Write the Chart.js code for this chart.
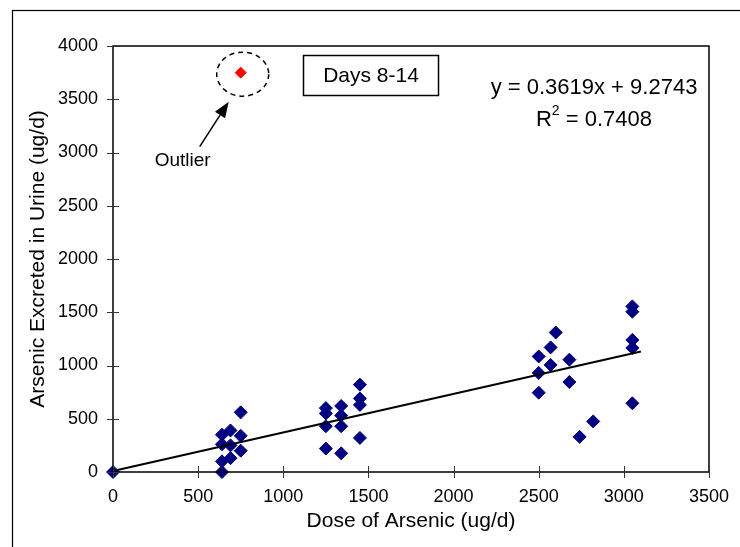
<!DOCTYPE html>
<html>
<head>
<meta charset="utf-8">
<script src="https://cdn.jsdelivr.net/npm/chart.js@4/dist/chart.umd.min.js"></script>
<style>
  html, body { margin: 0; padding: 0; background: #fff; }
  #wrap { width: 740px; height: 547px; position: relative; }
</style>
</head>
<body>
<div id="wrap"><canvas id="arsenicChart" width="740" height="547"></canvas></div>
<script>
// dose (ug/d) vs arsenic excreted in urine (ug/d), days 8-14
const doseValues = [
  0,
  640, 640, 640, 640,
  690, 690, 690,
  750, 750, 750,
  1250, 1250, 1250, 1250,
  1340, 1340, 1340, 1340,
  1450, 1450, 1450, 1450,
  2500, 2500, 2500,
  2570, 2570,
  2600,
  2680, 2680,
  2740,
  2820,
  3050, 3050, 3050, 3050, 3050
];
const urineValues = [
  0,
  350, 260, 100, 0,
  390, 250, 130,
  560, 340, 200,
  600, 550, 430, 220,
  620, 530, 430, 175,
  820, 690, 630, 320,
  1085, 930, 745,
  1170, 1005,
  1310,
  1055, 845,
  330,
  475,
  1555, 1505, 1240, 1165, 645
];
const outlierDose = [750];
const outlierUrine = [3750];

// linear trend from the fitted equation
const slope = 0.3619;
const intercept = 9.2743;
const rSquared = 0.7408;
const trendRange = [0, 3100];

const xTicks = [0, 500, 1000, 1500, 2000, 2500, 3000, 3500];
const yTicks = [0, 500, 1000, 1500, 2000, 2500, 3000, 3500, 4000];

const FONT = "'Liberation Sans', Arial, Helvetica, sans-serif";

const points = doseValues.map((d, i) => ({ x: d, y: urineValues[i] }));
const outlier = outlierDose.map((d, i) => ({ x: d, y: outlierUrine[i] }));
const trend = trendRange.map(x => ({ x: x, y: slope * x + intercept }));

// frame, crossing tick marks and the text notes
const decorations = {
  id: 'decorations',
  afterDraw(chart) {
    const ctx = chart.ctx;
    const area = chart.chartArea;
    const xs = chart.scales.x;
    const ys = chart.scales.y;
    ctx.save();

    // outer chart border (runs off the right and bottom)
    ctx.strokeStyle = '#000';
    ctx.lineWidth = 1.2;
    ctx.strokeRect(12.5, 10.5, 800, 600);

    // plot area box
    ctx.lineWidth = 1.5;
    ctx.strokeRect(area.left, area.top, area.right - area.left, area.bottom - area.top);

    // tick marks crossing the axes
    ctx.lineWidth = 1;
    ctx.strokeStyle = '#333';
    ctx.beginPath();
    xTicks.forEach(v => {
      const px = Math.round(xs.getPixelForValue(v)) + 0.5;
      ctx.moveTo(px, area.bottom - 6);
      ctx.lineTo(px, area.bottom + 6);
    });
    yTicks.forEach(v => {
      const py = Math.round(ys.getPixelForValue(v)) + 0.5;
      ctx.moveTo(area.left - 6, py);
      ctx.lineTo(area.left + 6, py);
    });
    ctx.stroke();

    // dashed ring and arrow for the outlier
    const ox = xs.getPixelForValue(outlierDose[0]);
    const oy = ys.getPixelForValue(outlierUrine[0]);
    ctx.strokeStyle = '#000';
    ctx.lineWidth = 1.5;
    ctx.setLineDash([5, 4]);
    ctx.beginPath();
    ctx.ellipse(ox + 2, oy + 1.5, 26, 22, 0, 0, Math.PI * 2);
    ctx.stroke();
    ctx.setLineDash([]);

    const tipX = ox - 12, tipY = oy + 29;
    const tailX = ox - 41, tailY = oy + 74;
    const ang = Math.atan2(tipY - tailY, tipX - tailX);
    const headLen = 16, headW = 6;
    const baseX = tipX - Math.cos(ang) * headLen;
    const baseY = tipY - Math.sin(ang) * headLen;
    ctx.beginPath();
    ctx.moveTo(tailX, tailY);
    ctx.lineTo(baseX, baseY);
    ctx.stroke();
    ctx.fillStyle = '#000';
    ctx.beginPath();
    ctx.moveTo(tipX, tipY);
    ctx.lineTo(baseX + Math.sin(ang) * headW, baseY - Math.cos(ang) * headW);
    ctx.lineTo(baseX - Math.sin(ang) * headW, baseY + Math.cos(ang) * headW);
    ctx.closePath();
    ctx.fill();

    ctx.font = '19px ' + FONT;
    ctx.textAlign = 'center';
    ctx.textBaseline = 'middle';
    ctx.fillText('Outlier', ox - 58, oy + 88);

    // period label box
    ctx.lineWidth = 1.5;
    ctx.strokeRect(303.5, 55.5, 135, 40);
    ctx.font = '21px ' + FONT;
    ctx.fillText('Days 8-14', 371, 76);

    // trend equation and R squared
    ctx.font = '22px ' + FONT;
    ctx.fillText('y = ' + slope + 'x + ' + intercept, 594, 88);
    const rest = ' = ' + rSquared;
    const wR = ctx.measureText('R').width;
    const wRest = ctx.measureText(rest).width;
    ctx.font = '14px ' + FONT;
    const w2 = ctx.measureText('2').width;
    const cx = 594 - (wR + w2 + wRest) / 2;
    ctx.textAlign = 'left';
    ctx.font = '22px ' + FONT;
    ctx.fillText('R', cx, 120);
    ctx.font = '14px ' + FONT;
    ctx.fillText('2', cx + wR, 111);
    ctx.font = '22px ' + FONT;
    ctx.fillText(rest, cx + wR + w2, 120);

    ctx.restore();
  }
};

const plainNumber = value => String(value);

new Chart(document.getElementById('arsenicChart').getContext('2d'), {
  type: 'scatter',
  data: {
    datasets: [
      {
        label: 'Days 8-14',
        data: points,
        pointStyle: 'rectRot',
        pointRadius: 6.5,
        pointHoverRadius: 6.5,
        backgroundColor: '#000080',
        borderColor: '#000080',
        borderWidth: 1,
        clip: false,
        order: 2
      },
      {
        label: 'Outlier',
        data: outlier,
        pointStyle: 'rectRot',
        pointRadius: 5.5,
        pointHoverRadius: 5.5,
        backgroundColor: '#ff0000',
        borderColor: '#ff0000',
        borderWidth: 1,
        clip: false,
        order: 2
      },
      {
        type: 'line',
        label: 'Linear trend',
        data: trend,
        borderColor: '#000',
        borderWidth: 2,
        pointRadius: 0,
        fill: false,
        clip: false,
        order: 1
      }
    ]
  },
  options: {
    responsive: false,
    animation: false,
    events: [],
    layout: { padding: { left: 12, top: 46, right: 31, bottom: 0 } },
    plugins: {
      legend: { display: false },
      tooltip: { enabled: false }
    },
    scales: {
      x: {
        type: 'linear',
        min: 0,
        max: 3500,
        afterBuildTicks: scale => { scale.ticks = xTicks.map(v => ({ value: v })); },
        afterFit: scale => {
          scale.height = 75;
          // keep the label overhang from shrinking the plot area
          scale.paddingLeft = 0;
          scale.paddingRight = 0;
        },
        grid: { display: false, drawTicks: false },
        border: { display: false },
        ticks: { color: '#000', font: { family: FONT, size: 18 }, padding: 14, callback: plainNumber },
        title: {
          display: true,
          text: 'Dose of Arsenic (ug/d)',
          color: '#000',
          font: { family: FONT, size: 21 },
          padding: { top: 0, bottom: 13 }
        }
      },
      y: {
        type: 'linear',
        min: 0,
        max: 4000,
        afterBuildTicks: scale => { scale.ticks = yTicks.map(v => ({ value: v })); },
        afterFit: scale => { scale.width = 101; },
        grid: { display: false, drawTicks: false },
        border: { display: false },
        ticks: { color: '#000', font: { family: FONT, size: 18 }, padding: 15, callback: plainNumber },
        title: {
          display: true,
          text: 'Arsenic Excreted in Urine (ug/d)',
          color: '#000',
          font: { family: FONT, size: 21 },
          padding: { top: 14, bottom: 0 }
        }
      }
    }
  },
  plugins: [decorations]
});
</script>
</body>
</html>
